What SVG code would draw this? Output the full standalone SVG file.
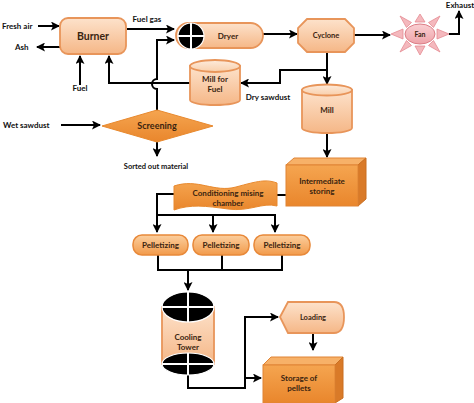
<svg xmlns="http://www.w3.org/2000/svg" width="474" height="403" viewBox="0 0 474 403">
<defs>
<linearGradient id="peach" x1="0" y1="0" x2="0" y2="1"><stop offset="0" stop-color="#fde2cb"/><stop offset="1" stop-color="#f5b787"/></linearGradient>
<linearGradient id="peachTop" x1="0" y1="0" x2="0" y2="1"><stop offset="0" stop-color="#fdebdc"/><stop offset="1" stop-color="#f9cfaa"/></linearGradient>
<linearGradient id="orange" x1="0" y1="0" x2="0" y2="1"><stop offset="0" stop-color="#f5a550"/><stop offset="1" stop-color="#e9862c"/></linearGradient>
<linearGradient id="pellet" x1="0" y1="0" x2="0" y2="1"><stop offset="0" stop-color="#fbcf9f"/><stop offset="1" stop-color="#f29a4a"/></linearGradient>
<linearGradient id="pink" x1="0" y1="0" x2="0" y2="1"><stop offset="0" stop-color="#fad0d3"/><stop offset="1" stop-color="#eea3a9"/></linearGradient>
<marker id="ah" markerWidth="9" markerHeight="9" refX="8" refY="4.5" orient="auto" markerUnits="userSpaceOnUse"><path d="M0,0 L9,4.5 L0,9 L2,4.5 Z" fill="#000"/></marker>
</defs>
<style>
.lbl{font-family:Lato,"Liberation Sans",sans-serif;font-weight:bold;font-size:8px;fill:#111;}
.nt{font-family:Lato,"Liberation Sans",sans-serif;font-weight:bold;font-size:8px;fill:#3a2410;text-anchor:middle;}
.pe{fill:url(#peach);stroke:#e8955a;stroke-width:1.8;}
.pt{fill:url(#peachTop);stroke:#e8955a;stroke-width:1.8;}
.or{fill:url(#orange);stroke:#e08434;stroke-width:1;}
.ortop{fill:#f7b168;stroke:#e08434;stroke-width:1;}
.orside{fill:#d97a28;stroke:#c96e20;stroke-width:1;}
.pl{fill:url(#pellet);stroke:#e8893a;stroke-width:1.5;}
.blk{fill:#000;stroke:#fff;stroke-width:1.2;}
.cross{stroke:#fff;stroke-width:2;fill:none;}
.ray{fill:#f4b8bd;stroke:#e48b93;stroke-width:0.8;}
.c{fill:none;stroke:#000;stroke-width:2;}
.ca{fill:none;stroke:#000;stroke-width:2;marker-end:url(#ah);}
</style>
<rect width="474" height="403" fill="#fff"/>

<g id="connectors">
<path class="ca" d="M38,26 H59"/>
<path class="ca" d="M60,47 H37"/>
<path class="ca" d="M80,85 V56"/>
<path class="ca" d="M127,29 H174"/>
<path class="ca" d="M157,111 V89 A5,5 0 0 1 157,79 V40 H174"/>
<path class="ca" d="M190,83 H109 V56"/>
<path class="ca" d="M263,34 H297"/>
<path class="ca" d="M354,35 H390"/>
<path class="ca" d="M449,34 H459 V11"/>
<path class="ca" d="M327,52 V84"/>
<path class="ca" d="M327,70 H280 V83 H241"/>
<path class="ca" d="M327,134 V157"/>
<path class="ca" d="M61,125 H100"/>
<path class="ca" d="M157,142 V156"/>
<path class="c" d="M286,195 H277"/>
<path class="c" d="M174,194 H157 V215 H275"/>
<path class="ca" d="M157,214 V232"/>
<path class="ca" d="M213,215 V232"/>
<path class="ca" d="M275,214 V232"/>
<path class="c" d="M158,255 V270 H282 V255"/>
<path class="c" d="M222,255 V270"/>
<path class="ca" d="M188,270 V290"/>
<path class="ca" d="M188,375 V388 H245 V317 H278"/>
<path class="ca" d="M245,378 H261"/>
<path class="ca" d="M313,333 V350"/>
</g>

<g id="labels">
<text class="lbl" x="2" y="29">Fresh air</text>
<text class="lbl" x="15" y="50">Ash</text>
<text class="lbl" x="80" y="91" text-anchor="middle">Fuel</text>
<text class="lbl" x="147" y="22" text-anchor="middle">Fuel gas</text>
<text class="lbl" x="268" y="100" text-anchor="middle">Dry sawdust</text>
<text class="lbl" x="460" y="8" text-anchor="middle">Exhaust</text>
<text class="lbl" x="3" y="128">Wet sawdust</text>
<text class="lbl" x="156" y="169" text-anchor="middle" style="font-size:7.5px">Sorted out material</text>
</g>

<g id="burner">
<rect class="pe" x="60" y="18" width="66" height="36" rx="8"/>
<text class="nt" x="93" y="40" style="font-size:10.5px">Burner</text>
</g>

<g id="dryer">
<rect class="pe" x="176" y="23" width="87" height="25" rx="12.5"/>
<circle class="blk" cx="191" cy="36" r="13"/>
<path class="cross" d="M178,36 H204 M191,23 V49"/>
<text class="nt" x="228" y="39">Dryer</text>
</g>

<g id="cyclone">
<polygon class="pe" points="307,19 345,19 354,28 354,43 345,52 307,52 298,43 298,28"/>
<text class="nt" x="326" y="38" style="font-size:7.5px">Cyclone</text>
</g>

<g id="fan">
<polygon class="ray" points="391,34 403,29 403,39"/>
<polygon class="ray" points="449,34 437,29 437,39"/>
<polygon class="ray" points="420,14 415,22 425,22"/>
<polygon class="ray" points="420,55 415,46 425,46"/>
<polygon class="ray" points="400,16 406.5,27.5 411.5,22.5"/>
<polygon class="ray" points="440,16 433.5,27.5 428.5,22.5"/>
<polygon class="ray" points="400,52 406.5,40.5 411.5,45.5"/>
<polygon class="ray" points="440,52 433.5,40.5 428.5,45.5"/>
<ellipse cx="420" cy="34" rx="15" ry="10" fill="url(#pink)" stroke="#dc7d86" stroke-width="1"/>
<text class="nt" x="420" y="36.5" style="font-size:7px">Fan</text>
</g>

<g id="mill-for-fuel">
<path class="pe" d="M190,66 V100 A25,5 0 0 0 240,100 V66 Z"/>
<ellipse class="pt" cx="215" cy="66" rx="25" ry="6"/>
<text class="nt" x="215" y="82">Mill for</text>
<text class="nt" x="215" y="92">Fuel</text>
</g>

<g id="mill">
<path class="pe" d="M302,90 V128 A25,5 0 0 0 352,128 V90 Z"/>
<ellipse class="pt" cx="327" cy="90" rx="25" ry="5.5"/>
<text class="nt" x="327" y="113">Mill</text>
</g>

<g id="screening">
<polygon points="102,126 157,110 213,126 157,142" fill="url(#orange)" stroke="#e8892e" stroke-width="1"/>
<text class="nt" x="157" y="129" style="font-size:9px">Screening</text>
</g>

<g id="intermediate-storing">
<polygon class="ortop" points="286,165 294,158 366,158 358,165"/>
<polygon class="orside" points="358,165 366,158 366,199 358,206"/>
<rect class="or" x="286" y="165" width="72" height="41"/>
<text class="nt" x="322" y="184">Intermediate</text>
<text class="nt" x="322" y="194">storing</text>
</g>

<g id="conditioning">
<path d="M174,186 C198,178 214,193 236,187 S266,179 277,183 V206 C262,202 250,212 228,209 S190,204 174,210 Z" fill="url(#orange)" stroke="#e8892e" stroke-width="1"/>
<text class="nt" x="228" y="196">Conditioning mising</text>
<text class="nt" x="228" y="206">chamber</text>
</g>

<g id="pelletizing-1">
<rect class="pl" x="133" y="235" width="55" height="20" rx="9"/>
<text class="nt" x="160.5" y="248">Pelletizing</text>
</g>
<g id="pelletizing-2">
<rect class="pl" x="193" y="235" width="56" height="20" rx="9"/>
<text class="nt" x="221" y="248">Pelletizing</text>
</g>
<g id="pelletizing-3">
<rect class="pl" x="254" y="235" width="56" height="20" rx="9"/>
<text class="nt" x="282" y="248">Pelletizing</text>
</g>

<g id="cooling-tower">
<rect class="pe" x="162" y="307" width="52" height="57"/>
<ellipse class="blk" cx="188" cy="307" rx="26" ry="15"/>
<path class="cross" d="M162,307 H214 M188,292 V322"/>
<ellipse class="blk" cx="188" cy="364" rx="26" ry="11"/>
<path class="cross" d="M162,364 H214 M188,353 V375"/>
<text class="nt" x="188" y="340">Cooling</text>
<text class="nt" x="188" y="350">Tower</text>
</g>

<g id="loading">
<path class="pe" d="M280,317 L288,302 H334 Q344,302 344,317 Q344,333 334,333 H288 Z"/>
<text class="nt" x="313" y="320" style="font-size:7.5px">Loading</text>
</g>

<g id="storage-of-pellets">
<polygon class="ortop" points="263,365 271,357 343,357 335,365"/>
<polygon class="orside" points="335,365 343,357 343,398 335,403"/>
<rect class="or" x="263" y="365" width="72" height="38"/>
<text class="nt" x="299" y="381">Storage of</text>
<text class="nt" x="299" y="391">pellets</text>
</g>
</svg>
